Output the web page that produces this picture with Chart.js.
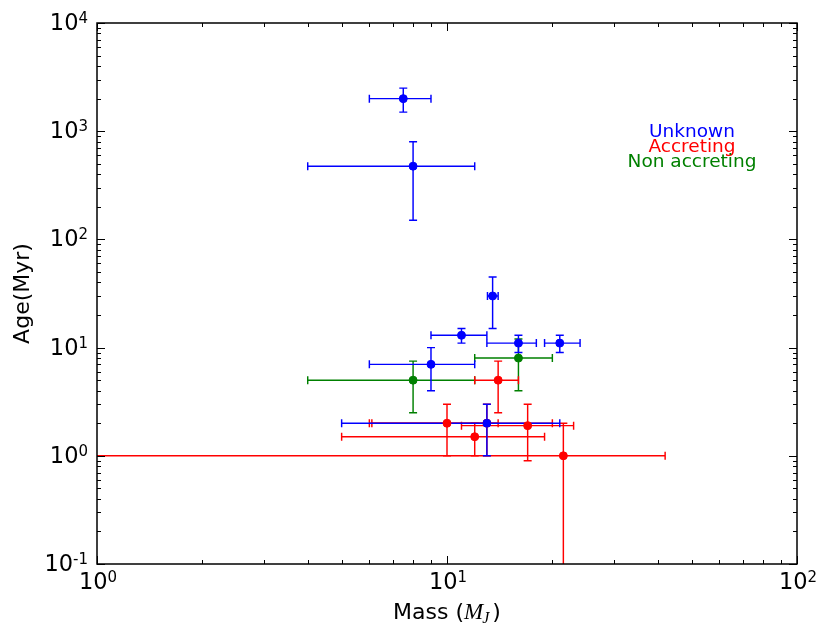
<!DOCTYPE html>
<html><head><meta charset="utf-8">
<script src="https://cdn.jsdelivr.net/npm/chart.js@4.4.0/dist/chart.umd.min.js"></script>
<style>html,body{margin:0;padding:0;background:#fff}canvas{display:block}</style>
</head><body>
<canvas id="c" width="830" height="637"></canvas>
<script>
// ---- data (mass in M_J, age in Myr, with lower / upper error limits) ----
const unknownMass   = [7.5, 8, 13.5, 11, 16, 21, 9, 13];
const unknownMassLo = [6, 4, 13.05, 9, 13, 19, 6, 5];
const unknownMassHi = [9, 12, 14, 13, 18, 24, 12, 21];
const unknownAge    = [2000, 475, 30, 13, 11, 11, 7, 2];
const unknownAgeLo  = [1500, 150, 15, 11, 9, 9, 4, 1];
const unknownAgeHi  = [2500, 800, 45, 15, 13, 13, 10, 3];

const accMass   = [14, 10, 13, 17, 12, 21.5];
const accMassLo = [12, 6, 6.1, 11, 5, 0.5];
const accMassHi = [16, 14, 20, 23, 19, 42];
const accAge    = [5, 2, 2, 1.9, 1.5, 1];
const accAgeLo  = [2.5, 1, 1, 0.9, 1, 0.001];
const accAgeHi  = [7.5, 3, 3, 3, 2, 2];

const nonMass   = [16, 8];
const nonMassLo = [12, 4];
const nonMassHi = [20, 12];
const nonAge    = [8, 5];
const nonAgeLo  = [4, 2.5];
const nonAgeHi  = [12, 7.5];

const seriesNames = ['Unknown', 'Accreting', 'Non accreting'];
const xDecades = [1, 10, 100];
const xDecadeExp = ['0', '1', '2'];
const yDecades = [0.1, 1, 10, 100, 1000, 10000];
const yDecadeExp = ['-1', '0', '1', '2', '3', '4'];

const COLORS = ['#0000ff', '#ff0000', '#008000'];

function build(m, mlo, mhi, a, alo, ahi) {
  return m.map((v, i) => ({x: v, y: a[i], xLo: mlo[i], xHi: mhi[i], yLo: alo[i], yHi: ahi[i]}));
}
function tickList(decades) {
  const out = [];
  for (let d = 0; d < decades.length; d++) {
    out.push({value: decades[d], major: true});
    if (d < decades.length - 1) for (let k = 2; k <= 9; k++) out.push({value: decades[d] * k, major: false});
  }
  return out;
}

const FONT = '"DejaVu Sans", "Bitstream Vera Sans", sans-serif';

const drawPlugin = {
  id: 'mplDraw',
  beforeDatasetsDraw(chart) {
    const {ctx, chartArea: a, scales: {x, y}} = chart;
    ctx.save();
    ctx.beginPath();
    ctx.rect(a.left, a.top, a.right - a.left, a.bottom - a.top);
    ctx.clip();
    ctx.lineWidth = 1.45;
    const cap = 4;
    for (let di = chart.data.datasets.length - 1; di >= 0; di--) {
      const ds = chart.data.datasets[di];
      ctx.strokeStyle = ds.backgroundColor;
      ds.data.forEach(p => {
        const px = x.getPixelForValue(p.x), py = y.getPixelForValue(p.y);
        const x0 = x.getPixelForValue(p.xLo), x1 = x.getPixelForValue(p.xHi);
        const y0 = y.getPixelForValue(p.yLo), y1 = y.getPixelForValue(p.yHi);
        ctx.beginPath();
        ctx.moveTo(x0, py); ctx.lineTo(x1, py);
        ctx.moveTo(x0, py - cap); ctx.lineTo(x0, py + cap);
        ctx.moveTo(x1, py - cap); ctx.lineTo(x1, py + cap);
        ctx.moveTo(px, y0); ctx.lineTo(px, y1);
        ctx.moveTo(px - cap, y0); ctx.lineTo(px + cap, y0);
        ctx.moveTo(px - cap, y1); ctx.lineTo(px + cap, y1);
        ctx.stroke();
      });
    }
    ctx.restore();
  },
  afterDatasetsDraw(chart) {
    const {ctx, chartArea: a, scales: {x, y}} = chart;
    ctx.save();
    // ticks (inward, all four sides)
    ctx.strokeStyle = '#000';
    ctx.lineWidth = 1;
    ctx.beginPath();
    x.ticks.forEach(t => {
      const px = Math.round(x.getPixelForValue(t.value)) + 0.5;
      const L = t.major ? 8 : 4;
      ctx.moveTo(px, a.bottom); ctx.lineTo(px, a.bottom - L);
      ctx.moveTo(px, a.top); ctx.lineTo(px, a.top + L);
    });
    y.ticks.forEach(t => {
      const py = Math.round(y.getPixelForValue(t.value)) + 0.5;
      const L = t.major ? 8 : 4;
      ctx.moveTo(a.left, py); ctx.lineTo(a.left + L, py);
      ctx.moveTo(a.right, py); ctx.lineTo(a.right - L, py);
    });
    ctx.stroke();
    // frame
    ctx.lineWidth = 1.5;
    ctx.strokeRect(a.left, a.top, a.right - a.left, a.bottom - a.top);

    // tick labels 10^n
    ctx.fillStyle = '#000';
    ctx.textBaseline = 'alphabetic';
    const baseFont = '22.5px ' + FONT, expFont = '15px ' + FONT;
    function measure(exp) {
      ctx.font = baseFont; const w1 = ctx.measureText('10').width;
      ctx.font = expFont; const w2 = ctx.measureText(exp).width;
      return [w1, w2];
    }
    function drawLabel(exp, left, base) {
      const [w1] = measure(exp);
      ctx.font = baseFont; ctx.textAlign = 'left';
      ctx.fillText('10', left, base);
      ctx.font = expFont;
      ctx.fillText(exp, left + w1, base - 7);
    }
    xDecades.forEach((v, i) => {
      const [w1, w2] = measure(xDecadeExp[i]);
      const px = x.getPixelForValue(v);
      drawLabel(xDecadeExp[i], px - (w1 + w2) / 2 + 1, a.bottom + 25);
    });
    yDecades.forEach((v, i) => {
      const [w1, w2] = measure(yDecadeExp[i]);
      const py = y.getPixelForValue(v);
      drawLabel(yDecadeExp[i], a.left - 9 - (w1 + w2), py + 7);
    });

    // axis titles
    ctx.font = '22px ' + FONT;
    const t1 = 'Mass (', t3 = ')';
    const mFont = 'italic 23px "Liberation Serif", "DejaVu Serif", serif';
    const jFont = 'italic 16px "Liberation Serif", "DejaVu Serif", serif';
    const w1 = ctx.measureText(t1).width, w3 = ctx.measureText(t3).width;
    ctx.font = mFont; const wM = ctx.measureText('M').width;
    ctx.font = jFont; const wJ = ctx.measureText('J').width;
    const total = w1 + wM + wJ + 2 + w3;
    const cx = (a.left + a.right) / 2;
    let sx = cx - total / 2;
    const bl = 619;
    ctx.textAlign = 'left';
    ctx.font = '22px ' + FONT; ctx.fillText(t1, sx, bl); sx += w1;
    ctx.font = mFont; ctx.fillText('M', sx, bl); sx += wM - 1;
    ctx.font = jFont; ctx.fillText('J', sx, bl + 4); sx += wJ + 3;
    ctx.font = '22px ' + FONT; ctx.fillText(t3, sx, bl);

    ctx.save();
    ctx.translate(29, (a.top + a.bottom) / 2);
    ctx.rotate(-Math.PI / 2);
    ctx.textAlign = 'center';
    ctx.font = '22px ' + FONT;
    ctx.fillText('Age(Myr)', 0, 0);
    ctx.restore();

    // in-plot labels
    ctx.textAlign = 'center';
    ctx.font = '18.5px ' + FONT;
    const lx = 692, lb = [136.5, 151.5, 166.5];
    seriesNames.forEach((n, i) => { ctx.fillStyle = COLORS[i]; ctx.fillText(n, lx, lb[i]); });
    ctx.restore();
  }
};

new Chart(document.getElementById('c'), {
  type: 'scatter',
  data: {
    datasets: [
      {label: seriesNames[0], data: build(unknownMass, unknownMassLo, unknownMassHi, unknownAge, unknownAgeLo, unknownAgeHi),
       backgroundColor: COLORS[0], borderColor: COLORS[0]},
      {label: seriesNames[1], data: build(accMass, accMassLo, accMassHi, accAge, accAgeLo, accAgeHi),
       backgroundColor: COLORS[1], borderColor: COLORS[1]},
      {label: seriesNames[2], data: build(nonMass, nonMassLo, nonMassHi, nonAge, nonAgeLo, nonAgeHi),
       backgroundColor: COLORS[2], borderColor: COLORS[2]}
    ]
  },
  options: {
    responsive: false,
    devicePixelRatio: 1,
    animation: false,
    clip: {left: 0, top: 0, right: 0, bottom: 0},
    elements: {point: {radius: 4, borderWidth: 1, hoverRadius: 4}},
    layout: {padding: {top: 23, right: 33, left: 0, bottom: 0}},
    plugins: {legend: {display: false}, tooltip: {enabled: false}},
    events: [],
    scales: {
      x: {
        type: 'logarithmic', min: 1, max: 100,
        ticks: {display: false}, grid: {display: false}, border: {display: false},
        afterBuildTicks: s => { s.ticks = tickList(xDecades); },
        afterFit: s => { s.height = 73; }
      },
      y: {
        type: 'logarithmic', min: 0.1, max: 10000,
        ticks: {display: false}, grid: {display: false}, border: {display: false},
        afterBuildTicks: s => { s.ticks = tickList(yDecades); },
        afterFit: s => { s.width = 97; }
      }
    }
  },
  plugins: [drawPlugin]
});
</script>
</body></html>
